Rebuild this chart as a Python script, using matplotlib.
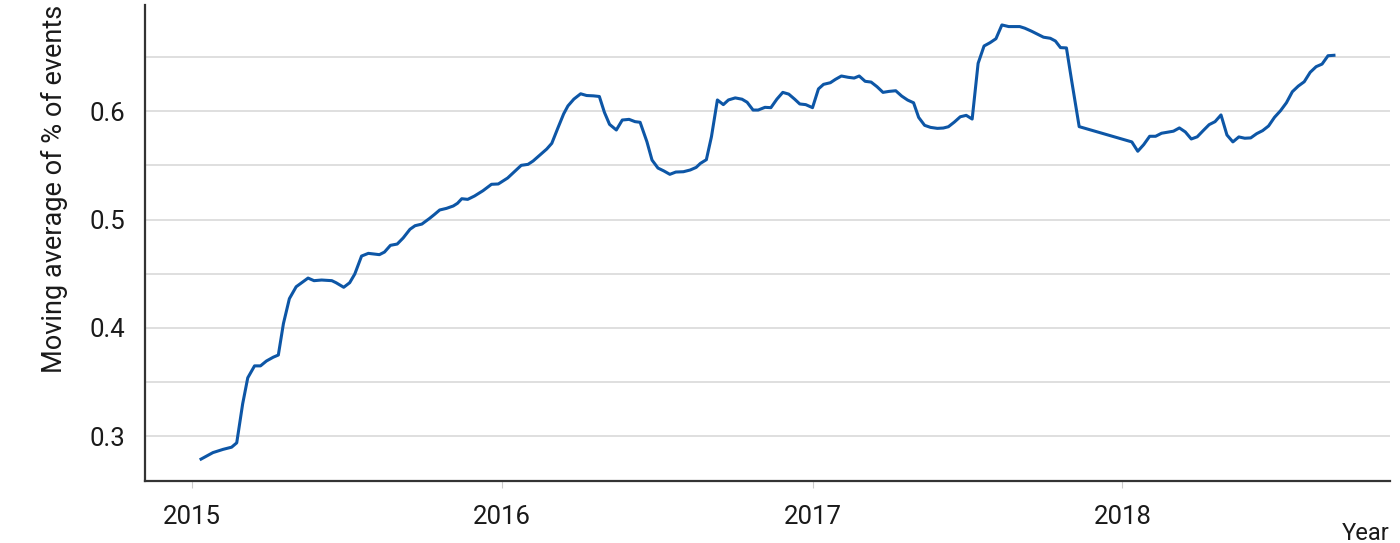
import matplotlib
matplotlib.use('Agg')
import matplotlib.pyplot as plt
import matplotlib.dates as mdates
import numpy as np
import pandas as pd

plt.rcParams['font.family'] = ['Roboto', 'DejaVu Sans']

# weekly moving average
dates_a = [
    '2015-01-12', '2015-01-26', '2015-02-07', '2015-02-17', '2015-02-23', '2015-03-02',
    '2015-03-08', '2015-03-16', '2015-03-23', '2015-03-30', '2015-04-07', '2015-04-13',
    '2015-04-19', '2015-04-26', '2015-05-04', '2015-05-11', '2015-05-18', '2015-05-25',
    '2015-06-03', '2015-06-15', '2015-06-20', '2015-06-29', '2015-07-06', '2015-07-12',
    '2015-07-20', '2015-07-28', '2015-08-10', '2015-08-16', '2015-08-23', '2015-08-31',
    '2015-09-07', '2015-09-15', '2015-09-21', '2015-09-29', '2015-10-08', '2015-10-14',
    '2015-10-20', '2015-10-28', '2015-11-05', '2015-11-10', '2015-11-15', '2015-11-22',
    '2015-11-30', '2015-12-10', '2015-12-20', '2015-12-28', '2016-01-08', '2016-01-16',
    '2016-01-24', '2016-02-01', '2016-02-07', '2016-02-15', '2016-02-23', '2016-02-29',
    '2016-03-07', '2016-03-14', '2016-03-19', '2016-03-26', '2016-04-03', '2016-04-10',
    '2016-04-18', '2016-04-25', '2016-05-01', '2016-05-07', '2016-05-15', '2016-05-22',
    '2016-05-30', '2016-06-06', '2016-06-12', '2016-06-20', '2016-06-26', '2016-07-03',
    '2016-07-10', '2016-07-17', '2016-07-24', '2016-08-02', '2016-08-10', '2016-08-17',
    '2016-08-22', '2016-08-29', '2016-09-04', '2016-09-11', '2016-09-18', '2016-09-24',
    '2016-10-02', '2016-10-10', '2016-10-16', '2016-10-23', '2016-10-29', '2016-11-06',
    '2016-11-13', '2016-11-20', '2016-11-27', '2016-12-04', '2016-12-11', '2016-12-17',
    '2016-12-24', '2017-01-01', '2017-01-08', '2017-01-14', '2017-01-22', '2017-01-28',
    '2017-02-04', '2017-02-12', '2017-02-19', '2017-02-25', '2017-03-04', '2017-03-11',
    '2017-03-18', '2017-03-25', '2017-04-01', '2017-04-09', '2017-04-16', '2017-04-23',
    '2017-04-30', '2017-05-06', '2017-05-13', '2017-05-20', '2017-05-28', '2017-06-04',
    '2017-06-10', '2017-06-17', '2017-06-24', '2017-07-01', '2017-07-08', '2017-07-15',
    '2017-07-22', '2017-07-29', '2017-08-05', '2017-08-12', '2017-08-20', '2017-08-26',
    '2017-09-02', '2017-09-08', '2017-09-16', '2017-09-23', '2017-09-30', '2017-10-08',
    '2017-10-14', '2017-10-20', '2017-10-27', '2017-11-02', '2017-11-11',
    '2018-01-12', '2018-01-19', '2018-01-26', '2018-02-02', '2018-02-09', '2018-02-16',
    '2018-02-23', '2018-03-02', '2018-03-09', '2018-03-16', '2018-03-23', '2018-03-30',
    '2018-04-06', '2018-04-13', '2018-04-20', '2018-04-27', '2018-05-04', '2018-05-11',
    '2018-05-18', '2018-05-25', '2018-06-01', '2018-06-08', '2018-06-15', '2018-06-22',
    '2018-06-29', '2018-07-06', '2018-07-13', '2018-07-20', '2018-07-27', '2018-08-03',
    '2018-08-10', '2018-08-17', '2018-08-24', '2018-08-31', '2018-09-07',
]
values_a = [
    0.279, 0.285, 0.288, 0.290, 0.294, 0.330,
    0.354, 0.365, 0.365, 0.3695, 0.373, 0.375,
    0.404, 0.427, 0.438, 0.442, 0.446, 0.4436,
    0.4442, 0.4436, 0.4417, 0.4375, 0.4417, 0.4497,
    0.4663, 0.4688, 0.4676, 0.470, 0.4762, 0.4774,
    0.483, 0.491, 0.4943, 0.4958, 0.501, 0.5048,
    0.5088, 0.5103, 0.5125, 0.515, 0.5192, 0.5186,
    0.5217, 0.5266, 0.5325, 0.5328, 0.5383, 0.5441,
    0.550, 0.5509, 0.554, 0.5595, 0.565, 0.5703,
    0.5841, 0.5975, 0.6048, 0.6111, 0.616, 0.6144,
    0.6141, 0.6135, 0.5988, 0.5878, 0.5826, 0.5918,
    0.5924, 0.5903, 0.5897, 0.5718, 0.5549, 0.5475,
    0.5448, 0.5417, 0.5438, 0.5441, 0.5457, 0.5481,
    0.5518, 0.5552, 0.5764, 0.6103, 0.606, 0.6103,
    0.6122, 0.611, 0.6082, 0.601, 0.601, 0.6035,
    0.6032, 0.611, 0.6173, 0.6157, 0.611, 0.6066,
    0.606, 0.6032, 0.6205, 0.6247, 0.6262, 0.6293,
    0.6324, 0.6312, 0.6305, 0.6324, 0.6275, 0.6268,
    0.6225, 0.6173, 0.6182, 0.6188, 0.6139, 0.6102,
    0.6077, 0.5942, 0.5869, 0.585, 0.5841, 0.5844,
    0.5856, 0.5899, 0.5948, 0.5961, 0.5927, 0.6441,
    0.6601, 0.6631, 0.6668, 0.6795, 0.678, 0.678,
    0.678, 0.6765, 0.6737, 0.6709, 0.6682, 0.6672,
    0.6647, 0.6586, 0.6583, 0.6288, 0.5857,
    0.5716, 0.563, 0.5691, 0.5768, 0.5768, 0.5796,
    0.5805, 0.5815, 0.5845, 0.5808, 0.5743, 0.5763,
    0.582, 0.5875, 0.5903, 0.5965, 0.578, 0.5716,
    0.5762, 0.575, 0.5753, 0.5792, 0.582, 0.5863,
    0.5943, 0.6003, 0.6077, 0.6179, 0.6231, 0.6271,
    0.6358, 0.641, 0.6434, 0.6511, 0.6515,
]
year_ticks = ['2015-01-01', '2016-01-01', '2017-01-01', '2018-01-01']
y_ticks = [0.3, 0.35, 0.4, 0.45, 0.5, 0.55, 0.6, 0.65]

LINE = '#0d56a6'
GRID = '#d9d9d9'
AXIS = '#333333'
TEXT = '#1a1a1a'

dates = pd.to_datetime(dates_a)

fig = plt.figure(figsize=(14, 5.43), dpi=100)
ax = fig.add_axes([145 / 1400, 1 - 481 / 543, 1245 / 1400, 476 / 543])

ax.plot(dates, values_a, color=LINE, lw=2.2, solid_joinstyle='round')

ax.set_xlim(pd.Timestamp('2014-11-07'), pd.Timestamp('2018-11-12'))
ax.set_ylim(0.2588, 0.6979)

ax.set_xticks(pd.to_datetime(year_ticks))
ax.xaxis.set_major_formatter(mdates.DateFormatter('%Y'))
ax.set_yticks(y_ticks)
ax.set_yticklabels([f'{v:.1f}' if round(v * 100) % 10 == 0 else '' for v in y_ticks])

ax.grid(axis='y', color=GRID, lw=1.2)
ax.set_axisbelow(True)
for side in ['top', 'right']:
    ax.spines[side].set_visible(False)
for side in ['left', 'bottom']:
    ax.spines[side].set_color(AXIS)
    ax.spines[side].set_linewidth(1.6)

ax.tick_params(axis='y', length=0, pad=14, labelsize=18.5, labelcolor=TEXT)
ax.tick_params(axis='x', length=5, width=0.8, color='#cccccc', pad=12,
               labelsize=18.5, labelcolor=TEXT)

ax.set_ylabel('Moving average of % of events', fontsize=19.5, loc='top',
              color=TEXT, labelpad=16)
fig.text(1390 / 1400, -2 / 543, 'Year', fontsize=17, ha='right', va='bottom',
         color=TEXT)

fig.savefig('out.png', dpi=100)
